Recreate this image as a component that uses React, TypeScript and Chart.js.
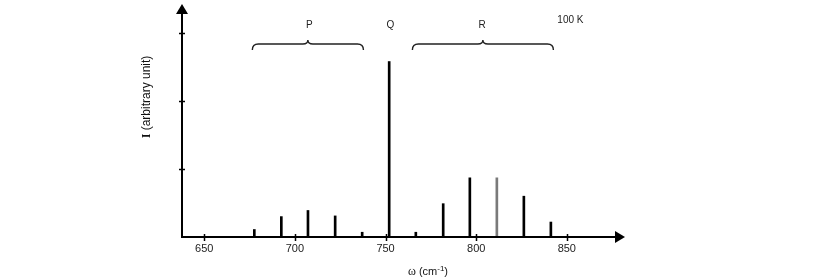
import React, { useEffect, useRef } from "react";
import { Chart, registerables } from "chart.js";

Chart.register(...registerables);

// ---- data ----
const wavenumbers = [677.6, 692.5, 707.2, 722.2, 737.1, 752.0, 766.7, 781.8, 796.5, 811.4, 826.3, 841.2];
const intensities = [0.11, 0.3, 0.39, 0.31, 0.07, 2.58, 0.07, 0.49, 0.87, 0.87, 0.6, 0.22];
const barColors = ["#000", "#000", "#000", "#000", "#000", "#000", "#000", "#000", "#000", "#7a7a7a", "#000", "#000"];
const xTickValues = [650, 700, 750, 800, 850];
const xTickLabels = ["650", "700", "750", "800", "850"];
const yTickValues = [1, 2, 3];
const branchLabels = ["P", "Q", "R"];
const branchLabelX = [708, 752.6, 803.3];
const pBraceRange = [676.5, 737.8];
const rBraceRange = [764.8, 842.6];
const temperatureLabel = "100 K";
const temperatureX = 852;

const X_MIN = 637.7;
const X_MAX = 882.1;
const Y_MAX = 3.426;

const SANS = '"Liberation Sans", Arial, sans-serif';
const SERIF = '"Liberation Serif", "Times New Roman", serif';

const decorPlugin = {
  id: "decor",
  afterDraw(chart: any) {
    const ctx = chart.ctx as CanvasRenderingContext2D;
    const xs = chart.scales.x;
    const ys = chart.scales.y;
    const { left, right, top, bottom } = chart.chartArea;
    ctx.save();
    ctx.strokeStyle = "#000";
    ctx.fillStyle = "#000";

    // axes lines
    ctx.lineWidth = 2;
    ctx.beginPath();
    ctx.moveTo(left, bottom);
    ctx.lineTo(left, top + 8);
    ctx.moveTo(left - 1, bottom);
    ctx.lineTo(right - 8, bottom);
    ctx.stroke();

    // arrows
    ctx.beginPath();
    ctx.moveTo(left, top);
    ctx.lineTo(left - 6, top + 10);
    ctx.lineTo(left + 6, top + 10);
    ctx.closePath();
    ctx.fill();
    ctx.beginPath();
    ctx.moveTo(right, bottom);
    ctx.lineTo(right - 10, bottom - 6);
    ctx.lineTo(right - 10, bottom + 6);
    ctx.closePath();
    ctx.fill();

    // y ticks
    ctx.lineWidth = 1.5;
    ctx.beginPath();
    for (const v of yTickValues) {
      const y = Math.round(ys.getPixelForValue(v)) + 0.5;
      ctx.moveTo(left - 3, y);
      ctx.lineTo(left + 3, y);
    }
    ctx.stroke();

    // x ticks + labels
    ctx.beginPath();
    for (const v of xTickValues) {
      const x = Math.round(xs.getPixelForValue(v)) + 0.5;
      ctx.moveTo(x, bottom - 3);
      ctx.lineTo(x, bottom + 4);
    }
    ctx.stroke();
    ctx.font = `11px ${SANS}`;
    ctx.fillStyle = "#222";
    ctx.textAlign = "center";
    ctx.textBaseline = "middle";
    xTickValues.forEach((v, i) => {
      ctx.fillText(xTickLabels[i], xs.getPixelForValue(v), bottom + 12);
    });

    // x title: ω (cm-1)
    {
      const parts = [
        { t: "ω", f: `12px ${SERIF}`, dy: 0 },
        { t: " (cm", f: `11px ${SANS}`, dy: 0 },
        { t: "-1", f: `8px ${SANS}`, dy: -4 },
        { t: ")", f: `11px ${SANS}`, dy: 0 },
      ];
      let total = 0;
      for (const p of parts) {
        ctx.font = p.f;
        total += ctx.measureText(p.t).width;
      }
      let x = 428 - total / 2;
      ctx.textAlign = "left";
      ctx.textBaseline = "alphabetic";
      ctx.fillStyle = "#111";
      for (const p of parts) {
        ctx.font = p.f;
        ctx.fillText(p.t, x, 275 + p.dy);
        x += ctx.measureText(p.t).width;
      }
    }

    // y title: I (arbitrary unit)
    {
      ctx.save();
      ctx.translate(150, 97);
      ctx.rotate(-Math.PI / 2);
      const parts = [
        { t: "I", f: `bold 12px ${SERIF}` },
        { t: " (arbitrary unit)", f: `12px ${SANS}` },
      ];
      let total = 0;
      for (const p of parts) {
        ctx.font = p.f;
        total += ctx.measureText(p.t).width;
      }
      let x = -total / 2;
      ctx.textAlign = "left";
      ctx.textBaseline = "alphabetic";
      ctx.fillStyle = "#111";
      for (const p of parts) {
        ctx.font = p.f;
        ctx.fillText(p.t, x, 0);
        x += ctx.measureText(p.t).width;
      }
      ctx.restore();
    }

    // braces
    const brace = (v1: number, v2: number) => {
      const x1 = xs.getPixelForValue(v1);
      const x2 = xs.getPixelForValue(v2);
      const xm = (x1 + x2) / 2;
      const yb = 44;
      ctx.beginPath();
      ctx.moveTo(x1, 50);
      ctx.quadraticCurveTo(x1, yb, x1 + 6, yb);
      ctx.lineTo(xm - 5, yb);
      ctx.quadraticCurveTo(xm, yb, xm, 40);
      ctx.quadraticCurveTo(xm, yb, xm + 5, yb);
      ctx.lineTo(x2 - 6, yb);
      ctx.quadraticCurveTo(x2, yb, x2, 50);
      ctx.stroke();
    };
    ctx.lineWidth = 1.4;
    ctx.strokeStyle = "#222";
    brace(pBraceRange[0], pBraceRange[1]);
    brace(rBraceRange[0], rBraceRange[1]);

    // labels
    ctx.fillStyle = "#222";
    ctx.font = `10px ${SANS}`;
    ctx.textAlign = "center";
    ctx.textBaseline = "middle";
    branchLabels.forEach((l, i) => {
      ctx.fillText(l, xs.getPixelForValue(branchLabelX[i]), 25);
    });
    ctx.fillText(temperatureLabel, xs.getPixelForValue(temperatureX), 20);

    ctx.restore();
  },
};

export default function App() {
  const ref = useRef<HTMLCanvasElement>(null);
  useEffect(() => {
    if (!ref.current) return;
    const chart = new Chart(ref.current, {
      type: "bar",
      data: {
        datasets: [
          {
            data: wavenumbers.map((x, i) => ({ x, y: intensities[i] })),
            backgroundColor: barColors,
            borderWidth: 0,
            barThickness: 2,
          },
        ],
      },
      options: {
        animation: false,
        responsive: false,
        layout: { padding: { left: 182, top: 4, right: 192, bottom: 43 } },
        scales: {
          x: { type: "linear", min: X_MIN, max: X_MAX, display: false, offset: false },
          y: { type: "linear", min: 0, max: Y_MAX, display: false },
        },
        plugins: { legend: { display: false }, tooltip: { enabled: false } },
      },
      plugins: [decorPlugin],
    } as any);
    return () => chart.destroy();
  }, []);
  return (
    <div style={{ position: "fixed", left: 0, top: 0, width: 817, height: 280, background: "#fff" }}>
      <canvas ref={ref} width={817} height={280} style={{ display: "block" }} />
    </div>
  );
}
